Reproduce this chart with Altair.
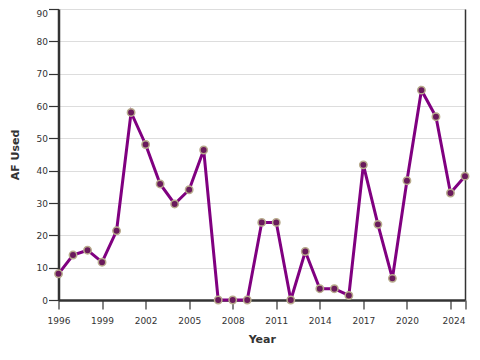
import altair as alt
import pandas as pd

years = list(range(1996, 2025))
af_used = [8.1, 13.9, 15.4, 11.7, 21.4, 58.0, 48.1, 35.9, 29.7, 34.1, 46.4,
           0.0, 0.0, 0.0, 24.0, 24.0, 0.0, 15.0, 3.5, 3.5, 1.4,
           41.8, 23.4, 6.7, 36.9, 64.9, 56.7, 33.1, 38.3]
x_ticks = [1996, 1999, 2002, 2005, 2008, 2011, 2014, 2017, 2020, 2023, 2024]
y_ticks = [0, 10, 20, 30, 40, 50, 60, 70, 80, 90]

df = pd.DataFrame({"Year": years, "AF Used": af_used})

base = alt.Chart(df)

x_enc = alt.X(
    "Year:Q",
    scale=alt.Scale(domain=[1996, 2024], nice=False, zero=False),
    axis=alt.Axis(
        values=x_ticks, format="d", grid=False,
        labelExpr="datum.value == 2023 ? '' : datum.label",
        labelAlign=alt.condition("datum.value == 2024", alt.value("right"), alt.value("center")),
        tickSize=9, labelPadding=7, titlePadding=8,
        domainColor="#333333", domainWidth=2.5, tickColor="#333333", tickWidth=1.2,
        labelFont="DejaVu Sans", labelFontSize=9, labelColor="#333333",
        titleFont="DejaVu Sans", titleFontSize=11, titleFontWeight="bold", titleColor="#333333",
        labelOverlap=False, labelFlush=False,
    ),
)

y_scale = alt.Scale(domain=[0, 90], nice=False)

line = base.mark_line(color="#800080", strokeWidth=3).encode(
    x=x_enc,
    y=alt.Y(
        "AF Used:Q",
        scale=y_scale,
        axis=alt.Axis(
            values=y_ticks, grid=True, gridColor="#dddddd", gridWidth=1,
            tickSize=10, labelPadding=1, titlePadding=16,
            labelBaseline=alt.condition("datum.value == 90", alt.value("top"), alt.value("middle")),
            domainColor="#333333", domainWidth=2.5, tickColor="#333333", tickWidth=1.2,
            labelFont="DejaVu Sans", labelFontSize=9, labelColor="#333333",
            titleFont="DejaVu Sans", titleFontSize=11, titleFontWeight="bold", titleColor="#333333",
            labelFlush=False,
        ),
    ),
)

points = base.mark_point(
    filled=True, size=55, color="#6a1a5c", stroke="#b8ab8c", strokeWidth=1.5, opacity=1
).encode(
    x=x_enc,
    y=alt.Y(
        "AF Used:Q",
        scale=y_scale,
        axis=alt.Axis(
            orient="right", labels=False, ticks=False, grid=False, title=None,
            domainColor="#333333", domainWidth=1.5,
        ),
    ),
)

chart = (
    alt.layer(line, points)
    .resolve_axis(y="independent")
    .properties(
        width=464, height=336,
        autosize=alt.AutoSizeParams(type="fit", contains="padding"),
        padding={"left": 0.5, "top": 0, "right": 0, "bottom": 0},
    )
    .configure_view(stroke=None)
    .configure(background="white")
)

chart.save("out.html", embed_options={"renderer": "svg", "actions": False})
